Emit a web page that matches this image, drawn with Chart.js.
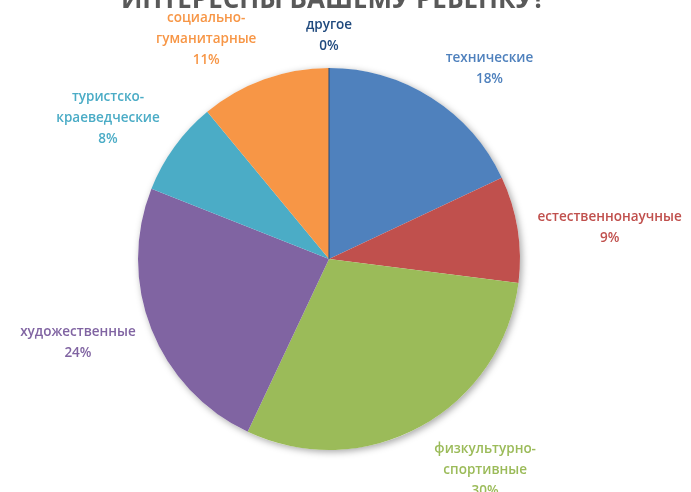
<!DOCTYPE html>
<html>
<head>
<meta charset="utf-8">
<script src="https://cdn.jsdelivr.net/npm/chart.js@4.4.1/dist/chart.umd.min.js"></script>
<style>
    html, body { margin: 0; padding: 0; background: #ffffff; }
    #chartDiv { width: 691px; height: 492px; }
</style>
</head>
<body>
<div id="chartDiv">
    <canvas id="chart1" width="691" height="492"></canvas>
</div>
<script>
const titleText = 'ИНТЕРЕСНЫ ВАШЕМУ РЕБЕНКУ?';

const categories = [
    ['технические'],
    ['естественнонаучные'],
    ['физкультурно-', 'спортивные'],
    ['художественные'],
    ['туристско-', 'краеведческие'],
    ['социально-', 'гуманитарные'],
    ['другое']
];

const percents = [18, 9, 30, 24, 8, 11, 0];

const sliceColors = ['#4F81BD', '#C0504D', '#9BBB59', '#8064A2', '#4BACC6', '#F79646', '#1F497D'];

// small shifts so labels sit where Excel put them
const labelNudge = [[25, 4], [3, 5], [31, 0], [-3, -1], [-10, 1], [-35, 6], [0, 7]];

// soft shadow behind the whole pie
const pieShadow = {
    id: 'pieShadow',
    beforeDatasetsDraw(chart) {
        const arc = chart.getDatasetMeta(0).data[0];
        const ctx = chart.ctx;
        ctx.save();
        ctx.shadowColor = 'rgba(0, 0, 0, 0.35)';
        ctx.shadowBlur = 7;
        ctx.shadowOffsetX = 2;
        ctx.shadowOffsetY = 2;
        ctx.fillStyle = '#ffffff';
        ctx.beginPath();
        ctx.arc(arc.x, arc.y, arc.outerRadius, 0, Math.PI * 2);
        ctx.fill();
        ctx.restore();
    }
};

// outside labels + the line for the zero slice + cut title
const pieLabels = {
    id: 'pieLabels',
    afterDatasetsDraw(chart) {
        const ctx = chart.ctx;
        const meta = chart.getDatasetMeta(0);
        const lineH = 21;
        ctx.save();
        ctx.font = '600 13.5px "Open Sans"';
        ctx.textAlign = 'center';
        ctx.textBaseline = 'middle';

        meta.data.forEach(function (arc, i) {
            const mid = (arc.startAngle + arc.endAngle) / 2;
            const dx = Math.cos(mid);
            const dy = Math.sin(mid);

            if (percents[i] === 0) {
                ctx.strokeStyle = sliceColors[i];
                ctx.lineWidth = 1;
                ctx.beginPath();
                ctx.moveTo(arc.x, arc.y);
                ctx.lineTo(arc.x + Math.cos(arc.startAngle) * arc.outerRadius, arc.y + Math.sin(arc.startAngle) * arc.outerRadius);
                ctx.stroke();
            }

            const lines = categories[i].concat([percents[i] + '%']);
            let w = 0;
            lines.forEach(function (t) { w = Math.max(w, ctx.measureText(t).width); });
            const h = lines.length * lineH;

            const r = arc.outerRadius + 18;
            const cx = arc.x + dx * r + dx * w / 2 + labelNudge[i][0];
            const cy = arc.y + dy * r + dy * h / 2 + labelNudge[i][1];

            ctx.fillStyle = sliceColors[i];
            lines.forEach(function (t, k) {
                ctx.fillText(t, cx, cy - h / 2 + lineH / 2 + k * lineH);
            });
        });

        ctx.font = 'bold 26px "Open Sans"';
        ctx.fillStyle = '#595959';
        ctx.textBaseline = 'alphabetic';
        ctx.fillText(titleText, 333, 8);
        ctx.restore();
    }
};

function pieChart(canvas, labels, data, colors) {
    const ctx = document.getElementById(canvas);
    const myChart = new Chart(ctx, {
        type: 'pie',
        data: {
            labels: labels,
            datasets: [{
                data: data,
                backgroundColor: colors,
                borderWidth: 0
            }]
        },
        options: {
            responsive: false,
            animation: false,
            layout: {
                padding: { top: 68, bottom: 42, left: 138, right: 171 }
            },
            plugins: {
                legend: { display: false },
                tooltip: { enabled: false },
                title: { display: false }
            }
        },
        plugins: [pieShadow, pieLabels]
    });
}

pieChart('chart1', categories.map(function (c) { return c.join(' '); }), percents, sliceColors);
</script>
</body>
</html>
